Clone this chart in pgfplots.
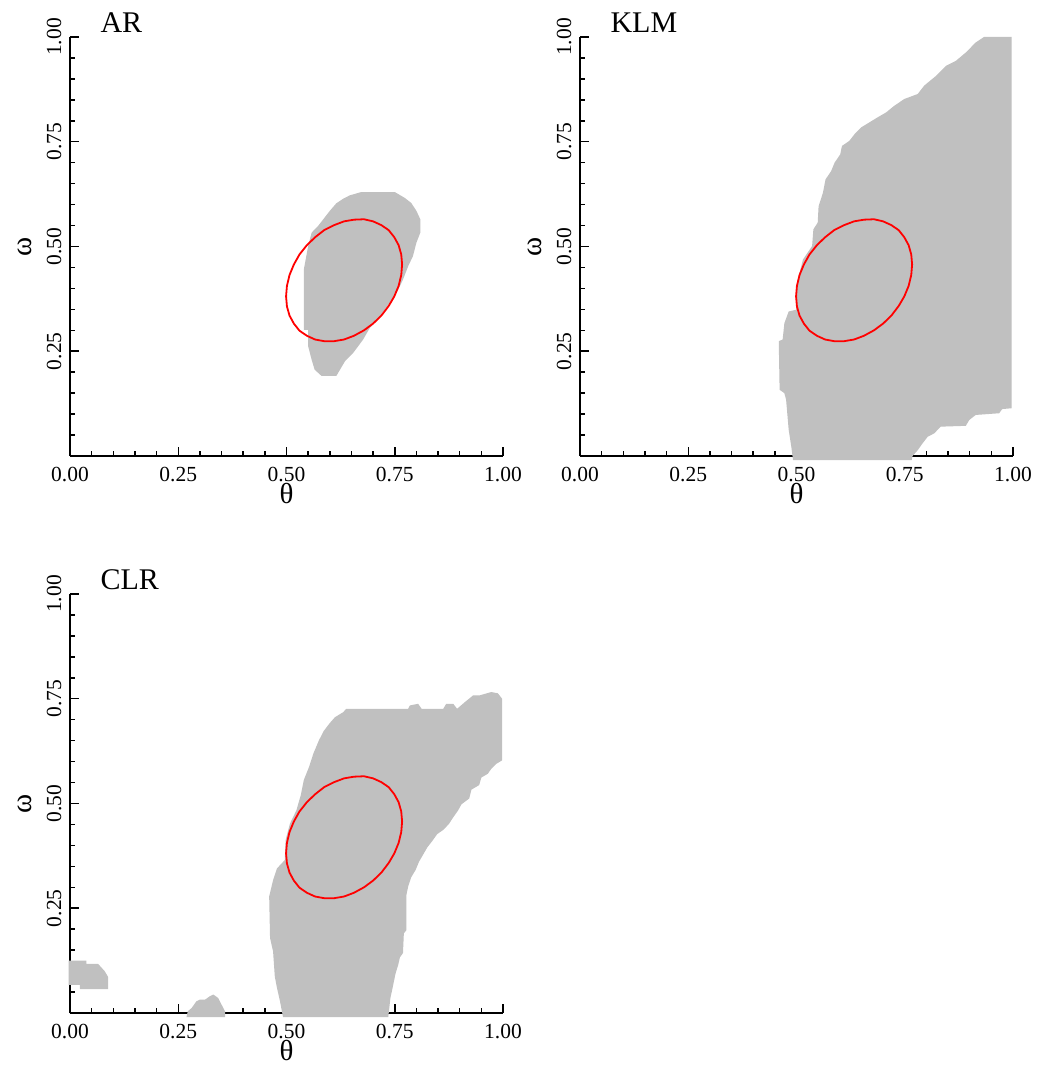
\documentclass[border=0pt]{standalone}
\usepackage{fontspec}
\setmainfont{Liberation Serif}
\usepackage{pgfplots}
\pgfplotsset{compat=1.18}
\definecolor{rgray}{RGB}{192,192,192}
\pgfplotsset{panel/.style={
  scale only axis, width=433pt, height=419pt,
  xmin=0, xmax=1, ymin=0, ymax=1,
  axis lines*=left,
  clip=false,
  axis line style={line width=1.6pt, black},
  tick align=inside,
  major tick length=9pt, minor tick length=5pt,
  every tick/.style={black, line width=1.5pt},
  xtick={0,0.25,0.5,0.75,1},
  ytick={0.25,0.5,0.75,1},
  minor xtick={0.05,0.1,0.15,0.2,0.3,0.35,0.4,0.45,0.55,0.6,0.65,0.7,0.8,0.85,0.9,0.95},
  minor ytick={0.05,0.1,0.15,0.2,0.3,0.35,0.4,0.45,0.55,0.6,0.65,0.7,0.8,0.85,0.9,0.95},
  /pgf/number format/fixed, /pgf/number format/fixed zerofill,
  /pgf/number format/precision=2, /pgf/number format/assume math mode=true,
  ticklabel style={font=\fontsize{21.5}{24}\selectfont},
  xticklabel shift=8pt,
  yticklabel shift=5pt,
  yticklabel style={rotate=90, anchor=south},
  xlabel={θ}, ylabel={ω},
  xlabel style={at={(axis description cs:0.5,-0.09)}, anchor=center, font=\fontsize{29}{34}\selectfont},
  ylabel style={at={(axis description cs:-0.104,0.5)}, anchor=center, font=\fontsize{29}{34}\selectfont},
  title style={at={(axis description cs:0.07,1)}, anchor=base west, yshift=-2pt, inner sep=0pt, font=\fontsize{30}{34}\selectfont},
}}
\newcommand{\ellipsedata}{
(0.767,0.457) (0.765,0.481) (0.759,0.503) (0.749,0.522) (0.736,0.539) (0.719,0.551)
(0.700,0.560) (0.679,0.565) (0.656,0.564) (0.633,0.560) (0.610,0.551) (0.587,0.539)
(0.566,0.522) (0.547,0.503) (0.530,0.481) (0.517,0.457) (0.507,0.432) (0.501,0.406)
(0.499,0.381) (0.501,0.357) (0.507,0.335) (0.517,0.316) (0.530,0.299) (0.547,0.287)
(0.566,0.278) (0.587,0.274) (0.610,0.274) (0.633,0.278) (0.656,0.287) (0.679,0.300)
(0.700,0.316) (0.719,0.335) (0.736,0.358) (0.749,0.381) (0.759,0.406) (0.765,0.432)}
\begin{document}
\begin{tikzpicture}
\useasboundingbox (0,0) rectangle (1039pt,1065pt);
\fill[white] (0,0) rectangle (1039pt,1065pt);
% AR
\begin{axis}[panel, at={(70pt,609pt)}, anchor=south west, title={AR}]
\addplot[fill=rgray, draw=none] coordinates {
(0.673,0.630) (0.750,0.630) (0.773,0.616) (0.788,0.604) (0.800,0.585) (0.809,0.565)
(0.809,0.533) (0.800,0.509) (0.792,0.477) (0.781,0.453) (0.769,0.421) (0.758,0.397)
(0.738,0.365) (0.715,0.333) (0.692,0.305) (0.677,0.278) (0.654,0.246) (0.635,0.226)
(0.615,0.191) (0.581,0.191) (0.565,0.206) (0.558,0.230) (0.550,0.262) (0.550,0.301)
(0.540,0.301) (0.540,0.445) (0.550,0.501) (0.558,0.533) (0.573,0.549) (0.588,0.569)
(0.600,0.585) (0.615,0.603) (0.631,0.614) (0.646,0.622)} -- cycle;
\addplot[red, line width=1.8pt] coordinates {\ellipsedata} -- cycle;
\end{axis}
% KLM
\begin{axis}[panel, at={(580pt,609pt)}, anchor=south west, title={KLM}]
\addplot[fill=rgray, draw=none] coordinates {
(0.933,1.000) (0.997,1.000) (0.997,0.114) (0.975,0.112) (0.968,0.102) (0.914,0.098)
(0.899,0.086) (0.891,0.072) (0.833,0.070) (0.818,0.054) (0.803,0.046) (0.791,0.030)
(0.780,0.014) (0.768,0.000) (0.766,-0.010) (0.492,-0.010) (0.488,0.022) (0.482,0.062)
(0.476,0.134) (0.472,0.150) (0.461,0.158) (0.459,0.274) (0.468,0.278) (0.472,0.317)
(0.482,0.345) (0.499,0.349) (0.501,0.413) (0.515,0.469) (0.536,0.501) (0.539,0.541)
(0.549,0.557) (0.551,0.596) (0.561,0.628) (0.567,0.660) (0.580,0.680) (0.588,0.700)
(0.601,0.720) (0.605,0.740) (0.622,0.752) (0.634,0.768) (0.649,0.784) (0.668,0.796)
(0.687,0.808) (0.707,0.820) (0.726,0.836) (0.749,0.852) (0.780,0.864) (0.795,0.884)
(0.822,0.907) (0.845,0.931) (0.868,0.943) (0.891,0.963) (0.914,0.987)} -- cycle;
\addplot[red, line width=1.8pt] coordinates {\ellipsedata} -- cycle;
\end{axis}
% CLR
\begin{axis}[panel, at={(70pt,52pt)}, anchor=south west, title={CLR}]
\addplot[fill=rgray, draw=none] coordinates {
(0.638,0.726) (0.781,0.726) (0.785,0.734) (0.804,0.738) (0.812,0.726) (0.862,0.726)
(0.869,0.738) (0.885,0.738) (0.894,0.726) (0.912,0.742) (0.931,0.758) (0.946,0.758)
(0.973,0.766) (0.988,0.763) (0.998,0.750) (0.998,0.603) (0.985,0.595) (0.973,0.583)
(0.965,0.571) (0.950,0.562) (0.945,0.544) (0.927,0.533) (0.922,0.512) (0.904,0.498)
(0.896,0.483) (0.885,0.467) (0.875,0.451) (0.862,0.437) (0.848,0.427) (0.837,0.411)
(0.825,0.395) (0.815,0.377) (0.806,0.361) (0.798,0.341) (0.788,0.324) (0.781,0.302)
(0.777,0.282) (0.777,0.198) (0.771,0.190) (0.769,0.143) (0.762,0.133) (0.758,0.115)
(0.752,0.095) (0.748,0.075) (0.745,0.060) (0.740,0.036) (0.735,-0.010) (0.492,-0.010)
(0.485,0.028) (0.478,0.060) (0.473,0.087) (0.469,0.147) (0.462,0.179) (0.460,0.278)
(0.469,0.317) (0.478,0.345) (0.496,0.365) (0.498,0.413) (0.508,0.452) (0.523,0.484)
(0.533,0.520) (0.540,0.556) (0.552,0.587) (0.562,0.619) (0.575,0.651) (0.586,0.673)
(0.600,0.692) (0.612,0.706) (0.631,0.718)} -- cycle;
\addplot[fill=rgray, draw=none] coordinates {
(-0.003,0.125) (0.038,0.125) (0.038,0.117) (0.065,0.117) (0.080,0.100) (0.088,0.086)
(0.088,0.057) (0.023,0.057) (0.023,0.067) (-0.003,0.067)} -- cycle;
\addplot[fill=rgray, draw=none] coordinates {
(0.269,-0.010) (0.272,0.004) (0.281,0.012) (0.292,0.028) (0.300,0.032) (0.312,0.032)
(0.323,0.040) (0.331,0.044) (0.342,0.036) (0.350,0.020) (0.358,0.004) (0.358,-0.010)} -- cycle;
\addplot[red, line width=1.8pt] coordinates {\ellipsedata} -- cycle;
\end{axis}
\end{tikzpicture}
\end{document}
